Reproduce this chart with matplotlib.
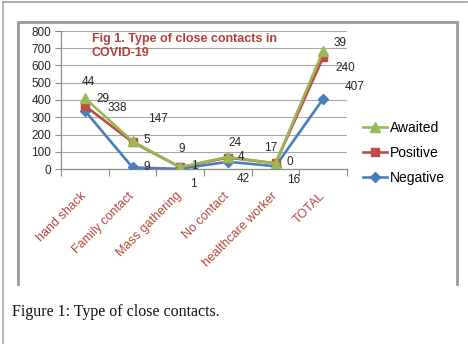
import numpy as np
import matplotlib.pyplot as plt
from matplotlib.lines import Line2D
from matplotlib.transforms import ScaledTranslation

# data (stacked line chart, values as labelled)
categories = ["hand shack", "Family contact", "Mass gathering", "No contact",
              "healthcare worker", "TOTAL"]
negative = [338, 9, 1, 42, 16, 407]
positive = [29, 147, 9, 24, 17, 240]
awaited = [44, 5, 1, 4, 0, 39]
yticks = [0, 100, 200, 300, 400, 500, 600, 700, 800]

W, H = 468, 346
plt.rcParams['font.family'] = ['Liberation Sans', 'DejaVu Sans']

blue = '#4A7EBB'
red = '#BE4B48'
green = '#98B954'
title_red = '#B5403B'
grey = '#8C8C8C'


def fx(px):
    return px / W


def fy(py):
    return 1 - py / H


fig = plt.figure(figsize=(W / 100, H / 100), dpi=100)

# outer box (only top and left edges show) and inner chart frame
fig.add_artist(Line2D([fx(3), fx(467)], [fy(2), fy(2)], color='#9A9A9A', lw=1.2))
fig.add_artist(Line2D([fx(3), fx(3)], [fy(2), fy(343)], color='#A8A8A8', lw=1.2))
fig.add_artist(Line2D([fx(18), fx(18), fx(457), fx(457)],
                      [fy(284), fy(22), fy(22), fy(284)],
                      color='#999999', lw=2.0, solid_joinstyle='miter'))

ax = fig.add_axes([fx(61), fy(169), fx(347) - fx(61), (169 - 31) / H])

x = np.arange(len(categories))
neg = np.array(negative)
pos_c = neg + np.array(positive)
aw_c = pos_c + np.array(awaited)

ax.plot(x, neg, color=blue, lw=1.9, marker='D', ms=5, mfc=blue, mec=blue, zorder=3)
ax.plot(x, pos_c, color=red, lw=1.9, marker='s', ms=6, mfc=red, mec=red, zorder=4)
ax.plot(x, aw_c, color=green, lw=1.9, marker='^', ms=6.5, mfc=green, mec=green, zorder=5)

# data labels (Excel ones were dragged around by hand)
neg_off = [(32, 3), (14, 0), (13, -15), (15, -17), (18, -14), (31, 12)]
pos_off = [(18, 7), (25, 23), (2, 18), (7, 15), (-5, 15), (22, -11)]
aw_off = [(3, 16), (14, 1), (14, 1), (13, 0), (14, 1), (17, 8)]
for vals, ys, offs in [(negative, neg, neg_off), (positive, pos_c, pos_off),
                       (awaited, aw_c, aw_off)]:
    for i, v in enumerate(vals):
        ax.annotate(str(v), xy=(x[i], ys[i]), xytext=offs[i],
                    textcoords='offset pixels', ha='center', va='center',
                    fontsize=8.5, color='#262626', zorder=6)

ax.set_xlim(-0.5, len(categories) - 0.5)
ax.set_ylim(0, 800)
ax.set_yticks(yticks)
ax.yaxis.grid(True, color='#A6A6A6', lw=0.8)
ax.set_axisbelow(True)
for s in ['top', 'right']:
    ax.spines[s].set_visible(False)
for s in ['left', 'bottom']:
    ax.spines[s].set_color(grey)
    ax.spines[s].set_linewidth(0.9)
ax.tick_params(axis='y', length=4, color=grey, labelsize=8.5, labelcolor='#262626', pad=3)

ax.set_xticks(np.arange(-0.5, len(categories)))
ax.set_xticklabels([])
ax.tick_params(axis='x', which='major', length=5, color=grey)
ax.set_xticks(x, minor=True)
ax.set_xticklabels(categories, minor=True, rotation=45, ha='right', va='top',
                   fontsize=9, color='#B5453F')
ax.tick_params(axis='x', which='minor', length=0, pad=15)
shift = ScaledTranslation(4 / 100, 0, fig.dpi_scale_trans)
for lab in ax.get_xticklabels(minor=True):
    lab.set_transform(lab.get_transform() + shift)

fig.text(fx(92), fy(46), "Fig 1. Type of close contacts in\nCOVID-19", fontsize=9,
         fontweight='bold', color=title_red, ha='left', va='center',
         linespacing=1.3)

handles = [
    Line2D([], [], color=green, lw=1.9, marker='^', ms=6.5),
    Line2D([], [], color=red, lw=1.9, marker='s', ms=6),
    Line2D([], [], color=blue, lw=1.9, marker='D', ms=5),
]
fig.legend(handles, ["Awaited", "Positive", "Negative"], loc='upper left',
           bbox_to_anchor=(fx(363), fy(121)), frameon=False, fontsize=10,
           handlelength=1.75, handletextpad=0.2, labelspacing=0.8,
           borderpad=0, borderaxespad=0)

fig.text(fx(12), fy(316), "Figure 1: Type of close contacts.", fontsize=11.5,
         family=['Liberation Serif', 'DejaVu Serif'], color='#111111',
         ha='left', va='baseline')

fig.savefig('out.png', dpi=100)
